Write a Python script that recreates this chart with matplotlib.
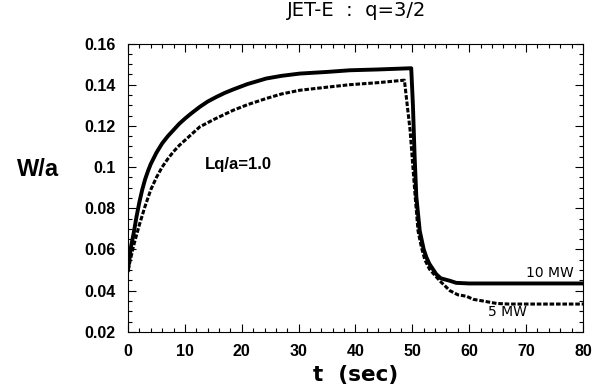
import matplotlib
matplotlib.use("Agg")
import matplotlib.pyplot as plt
from matplotlib.ticker import MultipleLocator

# 10 MW case (solid)
t_10 = [0, 0.5, 1, 1.5, 2, 2.5, 3, 3.5, 4, 5, 6, 7, 8, 9, 10, 11, 12.6, 14, 15.5, 17,
        18.5, 21, 24.3, 27, 30.2, 35, 39, 44, 49.8, 50.1, 50.4, 50.7, 51.3, 52, 52.5,
        53, 54.2, 55, 56.6, 57.7, 60, 70, 80]
w_10 = [0.05, 0.061, 0.068, 0.076, 0.083, 0.089, 0.094, 0.098, 0.1015, 0.107, 0.1115,
        0.115, 0.118, 0.121, 0.1235, 0.1258, 0.1292, 0.1318, 0.134, 0.136, 0.1377,
        0.1403, 0.143, 0.1443, 0.1454, 0.1462, 0.147, 0.1474, 0.148, 0.13, 0.105,
        0.0856, 0.069, 0.060, 0.056, 0.053, 0.048, 0.046, 0.0448, 0.0438, 0.0435,
        0.0435, 0.0435]

# 5 MW case (dashed)
t_5 = [0, 1, 2, 3, 4, 5, 6, 7, 8, 9, 10, 11, 12.6, 15, 18.5, 21, 24.3, 27, 30.2, 35,
       39, 44, 48.6, 49.1, 49.6, 50.5, 51, 51.6, 52.2, 53, 54.2, 55, 56.6, 58, 59.5,
       60.7, 62.4, 64.8, 67, 80]
w_5 = [0.05, 0.062, 0.072, 0.081, 0.089, 0.095, 0.1, 0.104, 0.1075, 0.1105, 0.113,
       0.1155, 0.1195, 0.123, 0.1276, 0.1303, 0.1333, 0.1355, 0.1373, 0.1388, 0.140,
       0.141, 0.1422, 0.13, 0.118, 0.0856, 0.069, 0.061, 0.055, 0.0505, 0.0467,
       0.0443, 0.040, 0.038, 0.0373, 0.0358, 0.035, 0.0338, 0.0335, 0.0335]

fig = plt.figure(figsize=(6.01, 3.85), dpi=100)
ax = fig.add_axes([0.213, 0.138, 0.757, 0.749])

ax.plot(t_10, w_10, color="black", lw=2.8, solid_joinstyle="round")
ax.plot(t_5, w_5, color="black", lw=2.2, linestyle=(0, (1.5, 0.6)))

ax.set_xlim(0, 80)
ax.set_ylim(0.02, 0.16)
ax.xaxis.set_major_locator(MultipleLocator(10))
ax.xaxis.set_minor_locator(MultipleLocator(2))
ax.yaxis.set_minor_locator(MultipleLocator(0.005))
ax.set_yticks([0.02, 0.04, 0.06, 0.08, 0.1, 0.12, 0.14, 0.16])
ax.set_yticklabels(["0.02", "0.04", "0.06", "0.08", "0.1", "0.12", "0.14", "0.16"])
ax.tick_params(which="both", direction="in", top=True, right=True, width=0.8)
ax.tick_params(which="major", length=6, pad=9)
ax.tick_params(which="minor", length=3)
for lab in ax.get_xticklabels() + ax.get_yticklabels():
    lab.set_family("Liberation Sans")
    lab.set_fontweight("bold")
    lab.set_fontsize(11.5)
for s in ax.spines.values():
    s.set_linewidth(0.8)

ax.text(13.5, 0.1014, "Lq/a=1.0", fontsize=12, fontweight="bold",
        family="Liberation Sans", va="center")
ax.text(78.3, 0.0485, "10 MW", fontsize=10, ha="right", va="center")
ax.text(66.8, 0.0296, "5 MW", fontsize=10, ha="center", va="center")

fig.text(357 / 601, 1 - 11 / 385, "JET-E  :  q=3/2", fontsize=14, ha="center", va="center")
fig.text(38 / 601, 1 - 170 / 385, "W/a", fontsize=17, fontweight="bold",
         family="Liberation Sans", ha="center", va="center")
fig.text(356 / 601, 1 - 375 / 385, "t  (sec)", fontsize=15.5, fontweight="bold",
         ha="center", va="center")

fig.savefig("out.png", dpi=100)
